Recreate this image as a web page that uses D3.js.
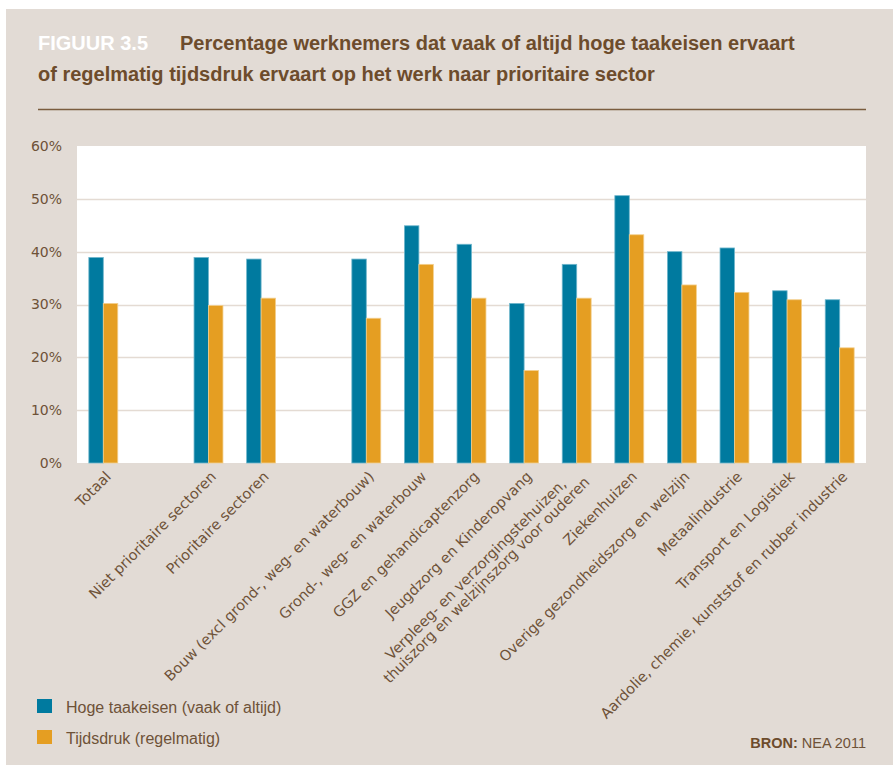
<!DOCTYPE html>
<html>
<head>
<meta charset="utf-8">
<script src="https://cdn.jsdelivr.net/npm/d3@7"></script>
<style>
  html, body { margin: 0; padding: 0; background: #ffffff; }
  svg { display: block; }
</style>
</head>
<body>
<svg id="chart" width="893" height="772"></svg>
<script>
// Sectors along the x axis; null entries are empty spacer slots between groups.
const categories = [
  "Totaal",
  null,
  "Niet prioritaire sectoren",
  "Prioritaire sectoren",
  null,
  "Bouw (excl grond-, weg- en waterbouw)",
  "Grond-, weg- en waterbouw",
  "GGZ en gehandicaptenzorg",
  "Jeugdzorg en Kinderopvang",
  "Verpleeg- en verzorgingstehuizen,\nthuiszorg en welzijnszorg voor ouderen",
  "Ziekenhuizen",
  "Overige gezondheidszorg en welzijn",
  "Metaalindustrie",
  "Transport en Logistiek",
  "Aardolie, chemie, kunststof en rubber industrie"
];

// Percentages per sector.
const hogeTaakeisen = [38.9, null, 38.9, 38.6, null, 38.6, 44.9, 41.4, 30.2, 37.6, 50.6, 40.0, 40.7, 32.6, 30.9];
const tijdsdruk     = [30.2, null, 29.8, 31.2, null, 27.4, 37.6, 31.2, 17.5, 31.2, 43.2, 33.7, 32.3, 30.9, 21.8];

const seriesNames = ["Hoge taakeisen (vaak of altijd)", "Tijdsdruk (regelmatig)"];
const yTicks = [0, 10, 20, 30, 40, 50, 60];

const titleTag = "FIGUUR 3.5";
const titleLines = [
  "Percentage werknemers dat vaak of altijd hoge taakeisen ervaart",
  "of regelmatig tijdsdruk ervaart op het werk naar prioritaire sector"
];
const sourceLabel = "BRON:";
const sourceText = "NEA 2011";

// ---- styling ----
const colors = ["#007a9f", "#e59e22"];
const edgeColors = ["#6fb6cc", "#f3cf8e"];
const bg = "#e2dbd5";
const brown = "#6d4c2c";
const labelBrown = "#6e5238";
const gridColor = "#e4dbd3";

const svg = d3.select("#chart");

// beige panel
svg.append("rect")
  .attr("x", 6).attr("y", 9)
  .attr("width", 887).attr("height", 756)
  .attr("fill", bg);

// title
const title = svg.append("text")
  .attr("x", 38).attr("y", 50)
  .attr("font-family", "'Liberation Sans', Arial, sans-serif")
  .attr("font-weight", "bold")
  .attr("font-size", 20)
  .attr("fill", brown);
title.append("tspan").attr("fill", "#ffffff").text(titleTag);
title.append("tspan").attr("x", 180).text(titleLines[0]);
svg.append("text")
  .attr("x", 38).attr("y", 81)
  .attr("font-family", "'Liberation Sans', Arial, sans-serif")
  .attr("font-weight", "bold")
  .attr("font-size", 20)
  .attr("fill", brown)
  .text(titleLines[1]);

svg.append("line")
  .attr("x1", 38).attr("x2", 866)
  .attr("y1", 109.5).attr("y2", 109.5)
  .attr("stroke", "#7a5c3e").attr("stroke-width", 1.5);

// ---- plot ----
const plot = { left: 77, right: 866, top: 146, bottom: 463 };

svg.append("rect")
  .attr("x", plot.left).attr("y", plot.top)
  .attr("width", plot.right - plot.left)
  .attr("height", plot.bottom - plot.top)
  .attr("fill", "#ffffff");

const x = d3.scaleBand()
  .domain(d3.range(categories.length))
  .range([plot.left, plot.right])
  .paddingInner(0.45)
  .paddingOuter(0.225);

const xSeries = d3.scaleBand()
  .domain([0, 1])
  .range([0, x.bandwidth()]);

const y = d3.scaleLinear()
  .domain([0, 60])
  .range([plot.bottom, plot.top]);

// gridlines
svg.append("g")
  .selectAll("line")
  .data(yTicks.filter(t => t > 0 && t < 60))
  .join("line")
  .attr("x1", plot.left).attr("x2", plot.right)
  .attr("y1", d => Math.round(y(d)) + 0.5)
  .attr("y2", d => Math.round(y(d)) + 0.5)
  .attr("stroke", gridColor)
  .attr("stroke-width", 1.5);

// y axis labels
const yAxis = d3.axisLeft(y)
  .tickValues(yTicks)
  .tickFormat(d => d + "%")
  .tickSize(0)
  .tickPadding(15);
const yG = svg.append("g")
  .attr("transform", `translate(${plot.left},0)`)
  .call(yAxis);
yG.select(".domain").remove();
yG.selectAll("text")
  .attr("font-family", "'DejaVu Sans', Verdana, sans-serif")
  .attr("font-size", 14)
  .attr("fill", labelBrown);

// bars
const series = [hogeTaakeisen, tijdsdruk];
series.forEach((values, si) => {
  svg.append("g")
    .selectAll("rect")
    .data(values.map((v, i) => ({ i, v })).filter(d => d.v != null))
    .join("rect")
    .attr("x", d => x(d.i) + xSeries(si))
    .attr("width", xSeries.bandwidth())
    .attr("y", d => y(d.v))
    .attr("height", d => y(0) - y(d.v))
    .attr("fill", colors[si])
    .attr("stroke", edgeColors[si])
    .attr("stroke-width", 0.8);
});

// x labels, rotated
const xLabels = svg.append("g")
  .attr("font-family", "'DejaVu Sans', Verdana, sans-serif")
  .attr("font-size", 14.5)
  .attr("fill", labelBrown);

categories.forEach((name, i) => {
  if (!name) return;
  const cx = x(i) + x.bandwidth() / 2;
  const g = xLabels.append("g")
    .attr("transform", `translate(${cx + 5},${474}) rotate(-45)`);
  const lines = name.split("\n");
  if (lines.length === 1) {
    g.append("text")
      .attr("text-anchor", "end")
      .attr("dy", "0.35em")
      .text(lines[0]);
  } else {
    // centred multi-line block, right end of the longest line on the tick
    const lh = 15;
    const texts = lines.map((ln, k) => g.append("text")
      .attr("text-anchor", "middle")
      .attr("y", (k - (lines.length - 1) / 2) * lh)
      .attr("dy", "0.35em")
      .text(ln));
    const maxLen = d3.max(texts, t => t.node().getComputedTextLength());
    texts.forEach(t => t.attr("x", -maxLen / 2));
  }
});

// legend
const legend = svg.append("g")
  .attr("font-family", "'Liberation Sans', Arial, sans-serif")
  .attr("font-size", 16)
  .attr("fill", labelBrown);
seriesNames.forEach((name, i) => {
  const yy = 699 + i * 31;
  legend.append("rect")
    .attr("x", 37).attr("y", yy)
    .attr("width", 15).attr("height", 14)
    .attr("fill", colors[i]);
  legend.append("text")
    .attr("x", 66).attr("y", yy + 14)
    .text(name);
});

// source
const src = svg.append("text")
  .attr("x", 866).attr("y", 748)
  .attr("text-anchor", "end")
  .attr("font-family", "'Liberation Sans', Arial, sans-serif")
  .attr("font-size", 14.5)
  .attr("fill", labelBrown);
src.append("tspan").attr("font-weight", "bold").attr("fill", brown).text(sourceLabel + " ");
src.append("tspan").text(sourceText);
</script>
</body>
</html>
